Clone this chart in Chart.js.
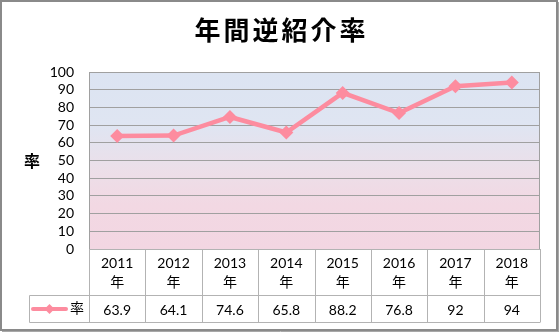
<!DOCTYPE html>
<html><head><meta charset="utf-8">
<script src="https://cdn.jsdelivr.net/npm/chart.js@4.4.0/dist/chart.umd.min.js"></script>
<style>html,body{margin:0;padding:0;background:#fff}#c{display:block}</style>
</head><body>
<canvas id="c" width="559" height="332"></canvas>
<script>
const chartTitle = '年間逆紹介率';
const yAxisTitle = '率';
const seriesName = '率';
const years = ['2011', '2012', '2013', '2014', '2015', '2016', '2017', '2018'];
const yearSuffix = '年';
const rates = [63.9, 64.1, 74.6, 65.8, 88.2, 76.8, 92, 94];
const yTickValues = [0, 10, 20, 30, 40, 50, 60, 70, 80, 90, 100];

const LINE = '#fd8c9f';
const FONT = "Lato, 'Noto Sans CJK JP', sans-serif";
const CJK = "'Noto Sans CJK JP', sans-serif";

const decor = {
  id: 'decor',
  beforeDraw(chart) {
    const {ctx, chartArea: a} = chart;
    ctx.save();
    ctx.fillStyle = '#fff';
    ctx.fillRect(0, 0, chart.width, chart.height);
    const g = ctx.createLinearGradient(0, a.top, 0, a.bottom);
    g.addColorStop(0, '#dce4f2');
    g.addColorStop(0.3, '#dfe5f2');
    g.addColorStop(0.55, '#ecdfe9');
    g.addColorStop(0.75, '#f2d8e3');
    g.addColorStop(1, '#f3d6e2');
    ctx.fillStyle = g;
    ctx.fillRect(a.left, a.top, a.right - a.left, a.bottom - a.top);
    // title
    ctx.fillStyle = '#000';
    ctx.font = "bold 26px " + CJK;
    ctx.textBaseline = 'middle';
    ctx.textAlign = 'left';
    ctx.letterSpacing = '3px';
    const w = ctx.measureText(chartTitle).width - 3;
    ctx.fillText(chartTitle, 280 - w / 2, 30);
    ctx.letterSpacing = '0px';
    // y axis title
    ctx.font = "bold 16px " + CJK;
    ctx.textAlign = 'center';
    ctx.fillText(yAxisTitle, 32, 161);
    ctx.restore();
  },
  beforeDatasetsDraw(chart) {
    const {ctx, chartArea: a, scales: {x}} = chart;
    ctx.save();
    // plot frame
    ctx.strokeStyle = '#a0a0a0';
    ctx.lineWidth = 1;
    ctx.strokeRect(a.left + 0.5, a.top + 0.5, a.right - a.left - 1, a.bottom - a.top);
    // table
    const n = years.length;
    const colW = (a.right - a.left) / n;
    const r1 = a.bottom, r2 = 295.5, r3 = 322.5, legL = 29.5;
    ctx.strokeStyle = '#b3b3b3';
    ctx.beginPath();
    ctx.moveTo(a.left, r1 + 0.5); ctx.lineTo(a.right, r1 + 0.5);
    ctx.moveTo(legL, r2); ctx.lineTo(a.right, r2);
    ctx.moveTo(legL, r3); ctx.lineTo(a.right, r3);
    ctx.moveTo(legL, r2); ctx.lineTo(legL, r3);
    for (let i = 0; i <= n; i++) {
      const cx = i < n ? x.getPixelForValue(i) - colW / 2 : x.getPixelForValue(n - 1) + colW / 2;
      const px = Math.round(cx) + 0.5;
      ctx.moveTo(px, r1); ctx.lineTo(px, r3);
    }
    ctx.stroke();
    ctx.fillStyle = '#000';
    ctx.textAlign = 'center';
    ctx.textBaseline = 'middle';
    years.forEach((yr, i) => {
      const cx = x.getPixelForValue(i);
      ctx.font = "14px " + FONT;
      ctx.fillText(yr, cx, 263);
      ctx.font = "14px " + CJK;
      ctx.fillText(yearSuffix, cx, 282);
      ctx.font = "14px " + FONT;
      ctx.fillText(String(rates[i]), cx, 310);
    });
    // legend key
    ctx.strokeStyle = LINE;
    ctx.lineWidth = 4;
    ctx.lineCap = 'round';
    ctx.beginPath(); ctx.moveTo(33, 309); ctx.lineTo(66, 309); ctx.stroke();
    ctx.fillStyle = LINE;
    ctx.beginPath();
    ctx.moveTo(49.5, 304); ctx.lineTo(54.5, 309); ctx.lineTo(49.5, 314); ctx.lineTo(44.5, 309); ctx.closePath(); ctx.fill();
    ctx.fillStyle = '#000';
    ctx.font = "14px " + CJK;
    ctx.fillText(seriesName, 77, 308);
    ctx.restore();
  },
  afterDraw(chart) {
    const {ctx} = chart;
    ctx.save();
    ctx.strokeStyle = '#8a8a8a';
    ctx.lineWidth = 2;
    ctx.strokeRect(1, 1, 556, 329);
    ctx.strokeStyle = '#a8a8a8';
    ctx.lineWidth = 1;
    ctx.beginPath();
    ctx.moveTo(558.5, 2); ctx.lineTo(558.5, 332);
    ctx.moveTo(2, 331.5); ctx.lineTo(559, 331.5);
    ctx.stroke();
    ctx.restore();
  }
};

new Chart(document.getElementById('c'), {
  type: 'line',
  data: {
    labels: years.map(y => y + yearSuffix),
    datasets: [{
      label: seriesName,
      data: rates,
      borderColor: LINE,
      backgroundColor: LINE,
      borderWidth: 4.5,
      pointStyle: 'rectRot',
      pointRadius: 7,
      pointHoverRadius: 7,
      pointBorderWidth: 0,
      pointBackgroundColor: LINE,
      tension: 0,
      fill: false
    }]
  },
  options: {
    responsive: false,
    animation: false,
    devicePixelRatio: 1,
    layout: {padding: {top: 72, right: 19, left: 0, bottom: 0}},
    plugins: {legend: {display: false}, title: {display: false}, tooltip: {enabled: false}},
    scales: {
      x: {
        offset: true,
        grid: {display: false},
        border: {display: false},
        ticks: {display: false},
        afterFit: s => { s.height = 83; }
      },
      y: {
        min: 0, max: 100,
        afterBuildTicks: s => { s.ticks = yTickValues.map(v => ({value: v})); },
        grid: {color: '#a0a0a0', lineWidth: 1, drawTicks: false},
        border: {display: true, color: '#a0a0a0', width: 1},
        ticks: {font: {family: FONT, size: 14}, color: '#000', padding: 15, autoSkip: false},
        afterFit: s => { s.width = 89; }
      }
    }
  },
  plugins: [decor]
});
</script>
</body></html>
